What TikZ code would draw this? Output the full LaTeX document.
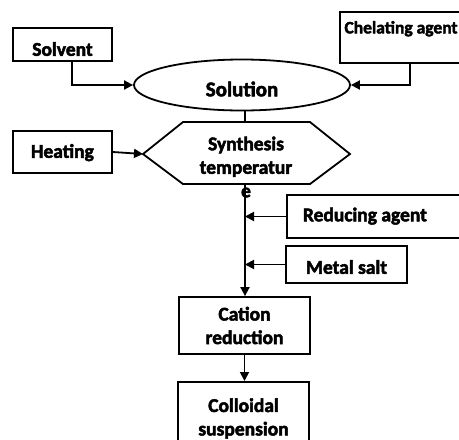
\documentclass[tikz,border=0pt]{standalone}
\usepackage{fontspec}
\setmainfont{Carlito}[BoldFeatures={FakeBold=2.5}]
\usetikzlibrary{shapes.geometric,arrows.meta,calc}
\begin{document}
\begin{tikzpicture}[x=1pt,y=-1pt, line width=1.8pt,
  txt/.style={inner sep=0pt, font=\fontsize{19.5}{23.5}\selectfont\bfseries},
  box/.style={txt, draw, align=center},
  arr/.style={-{Triangle[length=9pt,width=9pt]}}]
\useasboundingbox (0,0) rectangle (459,440);
\clip (0,0) rectangle (459,440);

\node[box, minimum width=99pt, minimum height=33pt, text height=22.6pt, text depth=0pt] (solv) at (62.5,44.5) {Solvent};
\node[box, minimum width=99pt, minimum height=42pt, text height=14pt, text depth=2.4pt] (heat) at (62.5,152) {Heating};
\node[txt, draw, anchor=north, minimum width=122pt, text height=21.5pt, text depth=29.5pt,
      font=\fontsize{17.5}{21}\selectfont\bfseries] (chel) at (401,11) {Chelating agent};
\node[draw, ellipse, inner sep=0pt, minimum width=216pt, minimum height=51pt, text height=22.6pt, text depth=0pt,
      font=\fontsize{21}{26}\selectfont\bfseries] (sol) at (242,85) {Solution};

\coordinate (hexT) at (245,122);
\coordinate (hexL) at (143,154);
\coordinate (hexB) at (245,184);
\draw (183,122) -- (310,122) -- (350,154) -- (310,184) -- (183,184) -- (hexL) -- cycle;
\node[txt, align=center] (syn) at (246,167) {Synthesis\\temperatur\\e};

\node[txt, draw, anchor=west, minimum height=43pt, inner xsep=16pt, text height=14pt, text depth=4.4pt] (red) at (286,216.5) {\makebox[150pt][l]{Reducing agent}};
\node[box, minimum width=121pt, minimum height=37pt, text height=18.6pt, text depth=0pt] (met) at (346.5,264.5) {Metal salt};
\node[box, minimum width=131pt, minimum height=57pt] (cat) at (244.5,325.5) {Cation\\reduction};
\node[box, anchor=north, minimum width=131pt, minimum height=73pt] (col) at (243.5,381) {Colloidal\\suspension};

\draw[arr] ([xshift=9.5pt]solv.south) |- (sol.west);
\draw[arr] ([xshift=9pt]chel.south) |- (sol.east);
\draw (hexT |- sol.south) -- (hexT);
\draw[arr] (heat.east) -- (hexL);
\draw[arr] (hexB) -- (hexB |- cat.north);
\draw[arr] (red.west) -- (red.west -| hexB);
\draw[arr] (met.west) -- (met.west -| hexB);
\draw[arr] (cat.south) -- (cat.south |- col.north);
\end{tikzpicture}
\end{document}
